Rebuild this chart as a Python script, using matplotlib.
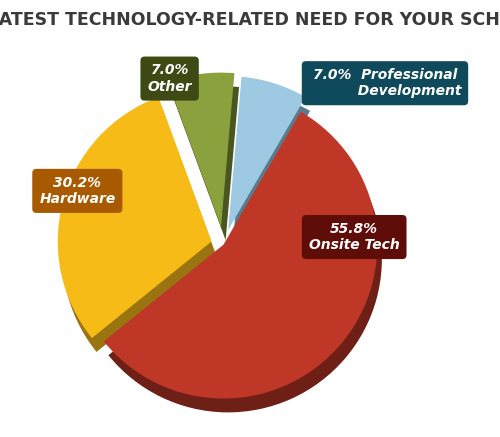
import matplotlib
matplotlib.use("Agg")
import matplotlib.pyplot as plt

labels = ["Professional\nDevelopment", "Onsite Tech", "Hardware", "Other"]
values = [7.0, 55.8, 30.2, 7.0]
colors = ["#9dc9e3", "#bf3727", "#f6bb17", "#8aa13d"]
dark = ["#5b7a8c", "#6e1f16", "#9a7410", "#4a5620"]
box_colors = ["#0e4a5c", "#5e0d08", "#a85a00", "#3d4a14"]
explode = [0.10, 0.0, 0.08, 0.12]

fig = plt.figure(figsize=(5, 4.37), dpi=100)
fig.text(0.5, 0.955, "GREATEST TECHNOLOGY-RELATED NEED FOR YOUR SCHOOL",
         ha="center", va="center", fontsize=12.5, fontweight="bold",
         color="#3a3a3a", family="DejaVu Sans Condensed")
ax = fig.add_axes([0.05, 0.0, 0.84, 0.88])
ax.pie(values, colors=dark, explode=explode, startangle=85, counterclock=False,
       center=(0.03, -0.09), radius=1.0)
ax.pie(values, colors=colors, explode=explode, startangle=85, counterclock=False,
       center=(0, 0), radius=1.0)
ax.set_xlim(-1.15, 1.3)
ax.set_ylim(-1.25, 1.25)
ax.set_aspect("equal")
ax.axis("off")

pos = [(1.05, 1.05), (0.85, 0.05), (-0.95, 0.35), (-0.35, 1.08)]
for (x, y), lab, v, bc in zip(pos, labels, values, box_colors):
    if lab.startswith("Professional"):
        txt = f"{v:.1f}%  Professional\n          Development"
    else:
        txt = f"{v:.1f}%\n{lab}"
    ax.text(x, y, txt, ha="center", va="center", color="white", fontsize=10,
            fontweight="bold", fontstyle="italic",
            bbox=dict(boxstyle="round,pad=0.5,rounding_size=0.3", fc=bc, ec="none"))

fig.savefig("out.png", dpi=100)
